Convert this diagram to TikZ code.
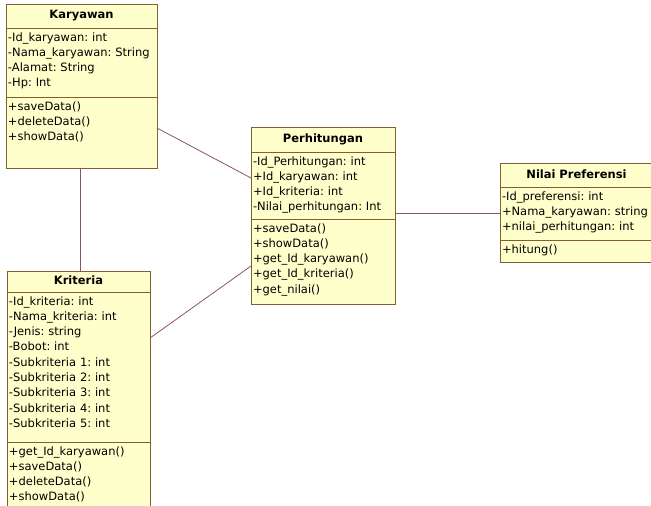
\documentclass[tikz,border=0pt]{standalone}
\usepackage{fontspec}
\setmainfont{DejaVu Sans}
\usetikzlibrary{positioning}
\definecolor{umlfill}{RGB}{255,255,204}
\definecolor{umlline}{RGB}{128,96,48}
\definecolor{umllink}{RGB}{140,85,95}
\newcommand{\umlfont}{\frenchspacing\fontsize{11.5}{15.3}\selectfont}

\begin{document}
\begin{tikzpicture}[
      x=1pt, y=-1pt,
      umlpart/.style={draw=umlline, fill=umlfill, line width=0.8pt, outer sep=0pt,
        inner xsep=2pt, inner ysep=2pt, font=\umlfont, align=left, text height=11pt},
      umlhead/.style={umlpart, align=center, font=\umlfont\bfseries,
        text height=9pt, text depth=3pt, inner ysep=0pt, anchor=north west},
      link/.style={draw=umllink, line width=0.8pt}
    ]
    \useasboundingbox (0,0) rectangle (651,506);
    % Karyawan
    \node[umlhead, text width=147pt, minimum height=24pt] (karT) at (6,4) {Karyawan};
    \node[umlpart, text width=147pt, text depth=54pt, below=0pt of karT] (karA)
      {-Id\_karyawan: int\\-Nama\_karyawan: String\\-Alamat: String\\-Hp: Int};
    \node[umlpart, text width=147pt, text depth=56pt, below=0pt of karA] (karO)
      {+saveData()\\+deleteData()\\+showData()};
    % Kriteria
    \node[umlhead, text width=139pt, minimum height=21pt] (kriT) at (7,271) {Kriteria};
    \node[umlpart, text width=139pt, text depth=135pt, below=0pt of kriT] (kriA)
      {-Id\_kriteria: int\\-Nama\_kriteria: int\\-Jenis: string\\-Bobot: int\\
       -Subkriteria 1: int\\-Subkriteria 2: int\\-Subkriteria 3: int\\
       -Subkriteria 4: int\\-Subkriteria 5: int};
    \node[umlpart, text width=139pt, text depth=55pt, below=0pt of kriA] (kriO)
      {+get\_Id\_karyawan()\\+saveData()\\+deleteData()\\+showData()};
    % Perhitungan
    \node[umlhead, text width=140pt, minimum height=25pt] (perT) at (251,127) {Perhitungan};
    \node[umlpart, text width=140pt, text depth=52pt, below=0pt of perT] (perA)
      {-Id\_Perhitungan: int\\+Id\_karyawan: int\\+Id\_kriteria: int\\-Nilai\_perhitungan: Int};
    \node[umlpart, text width=140pt, text depth=70pt, below=0pt of perA] (perO)
      {+saveData()\\+showData()\\+get\_Id\_karyawan()\\+get\_Id\_kriteria()\\+get\_nilai()};
    % Nilai Preferensi (runs past the right edge)
    \node[umlhead, text width=156pt, minimum height=24pt] (nilT) at (500,163) {\hspace*{-7pt}Nilai Preferensi};
    \node[umlpart, text width=156pt, text depth=38pt, below=0pt of nilT] (nilA)
      {-Id\_preferensi: int\\+Nama\_karyawan: string\\+nilai\_perhitungan: int};
    \node[umlpart, text width=156pt, text depth=7pt, below=0pt of nilA] (nilO)
      {+hitung()};
    % associations
    \draw[link] ([xshift=-1.5pt]karO.south) -- ([xshift=1.5pt]kriT.north);
    \draw[link] ([yshift=4.5pt]karO.east) -- ([yshift=7.5pt]perA.west);
    \draw[link] ([yshift=29pt]kriA.east) -- ([yshift=-4.5pt]perO.west);
    \draw[link] (perA.east |- nilA.west) -- (nilA.west);
  \end{tikzpicture}
\end{document}
